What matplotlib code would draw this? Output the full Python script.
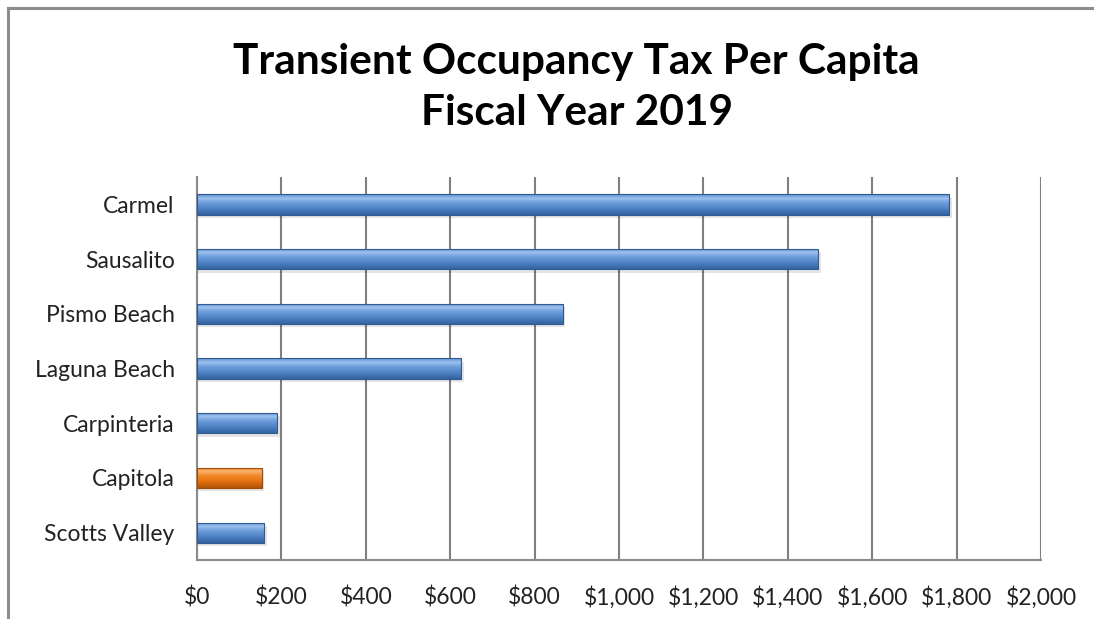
import matplotlib.pyplot as plt
import numpy as np
from matplotlib.colors import LinearSegmentedColormap
from matplotlib.patches import Rectangle
from matplotlib.lines import Line2D
from matplotlib.ticker import FuncFormatter

plt.rcParams['font.family'] = ['Lato', 'DejaVu Sans']

cities = ['Carmel', 'Sausalito', 'Pismo Beach', 'Laguna Beach',
          'Carpinteria', 'Capitola', 'Scotts Valley']
tot_per_capita = [1782, 1472, 867, 626, 190, 154, 159]
highlight = 'Capitola'

blue = LinearSegmentedColormap.from_list(
    'blue', [(0, '#34639e'), (0.3, '#4d82c4'), (0.6, '#6f9fdc'),
             (0.8, '#9dc1ee'), (1, '#5f90d0')])
orange = LinearSegmentedColormap.from_list(
    'orange', [(0, '#b05508'), (0.3, '#e46f0e'), (0.6, '#f38a2a'),
               (0.8, '#fbb36e'), (1, '#ea8226')])

fig = plt.figure(figsize=(10.94, 6.19), dpi=100)
ax = fig.add_axes([0.180, 0.0953, 0.7716, 0.6187])

y = np.arange(len(cities))[::-1]
h = 0.37
bars = ax.barh(y, tot_per_capita, height=h, color='none', edgecolor='none', zorder=3)

grad = np.linspace(0, 1, 64).reshape(-1, 1)
for bar, city in zip(bars, cities):
    x0, y0 = bar.get_x(), bar.get_y()
    w, bh = bar.get_width(), bar.get_height()
    cmap = orange if city == highlight else blue
    # soft drop shadow under each bar
    ax.add_patch(Rectangle((x0, y0 - 0.06), w + 6, bh, facecolor='#000000',
                           alpha=0.10, edgecolor='none', zorder=2))
    im = ax.imshow(grad, cmap=cmap, aspect='auto', origin='lower',
                   extent=(x0, x0 + w, y0, y0 + bh), zorder=3)
    im.set_clip_path(bar)
    ax.add_patch(Rectangle((x0, y0), w, bh, facecolor='none',
                           edgecolor='#2f5a92' if city != highlight else '#a04c08',
                           linewidth=0.8, zorder=4))

ax.set_xlim(0, 2000)
ax.set_ylim(-0.5, len(cities) - 0.5)
ax.set_xticks(np.arange(0, 2001, 200))
ax.xaxis.set_major_formatter(FuncFormatter(lambda v, p: '${:,.0f}'.format(v)))
ax.set_yticks(y)
ax.set_yticklabels(cities)
ax.tick_params(axis='both', length=0, labelsize=16.5, colors='#222222')
ax.tick_params(axis='x', pad=19)
ax.tick_params(axis='y', pad=16)
ax.grid(axis='x', color='#7f7f7f', linewidth=1.5, zorder=1)
ax.set_axisbelow(True)
for side in ['top', 'right']:
    ax.spines[side].set_visible(False)
for side in ['left', 'bottom']:
    ax.spines[side].set_color('#8a8a8a')
    ax.spines[side].set_linewidth(1.5)

fig.text(0.527, 0.90, 'Transient Occupancy Tax Per Capita', ha='center', va='center',
         fontsize=30.5, fontweight='bold')
fig.text(0.527, 0.817, 'Fiscal Year 2019', ha='center', va='center',
         fontsize=30.5, fontweight='bold')

# chart frame (left and top edges)
fx, fy = 8 / 1094, 1 - 8 / 619
fig.add_artist(Line2D([fx, fx], [-0.05, fy], transform=fig.transFigure,
                      color='#8c8c8c', linewidth=2.2))
fig.add_artist(Line2D([fx, 1.05], [fy, fy], transform=fig.transFigure,
                      color='#8c8c8c', linewidth=2.2))

fig.savefig('out.png', dpi=100)
